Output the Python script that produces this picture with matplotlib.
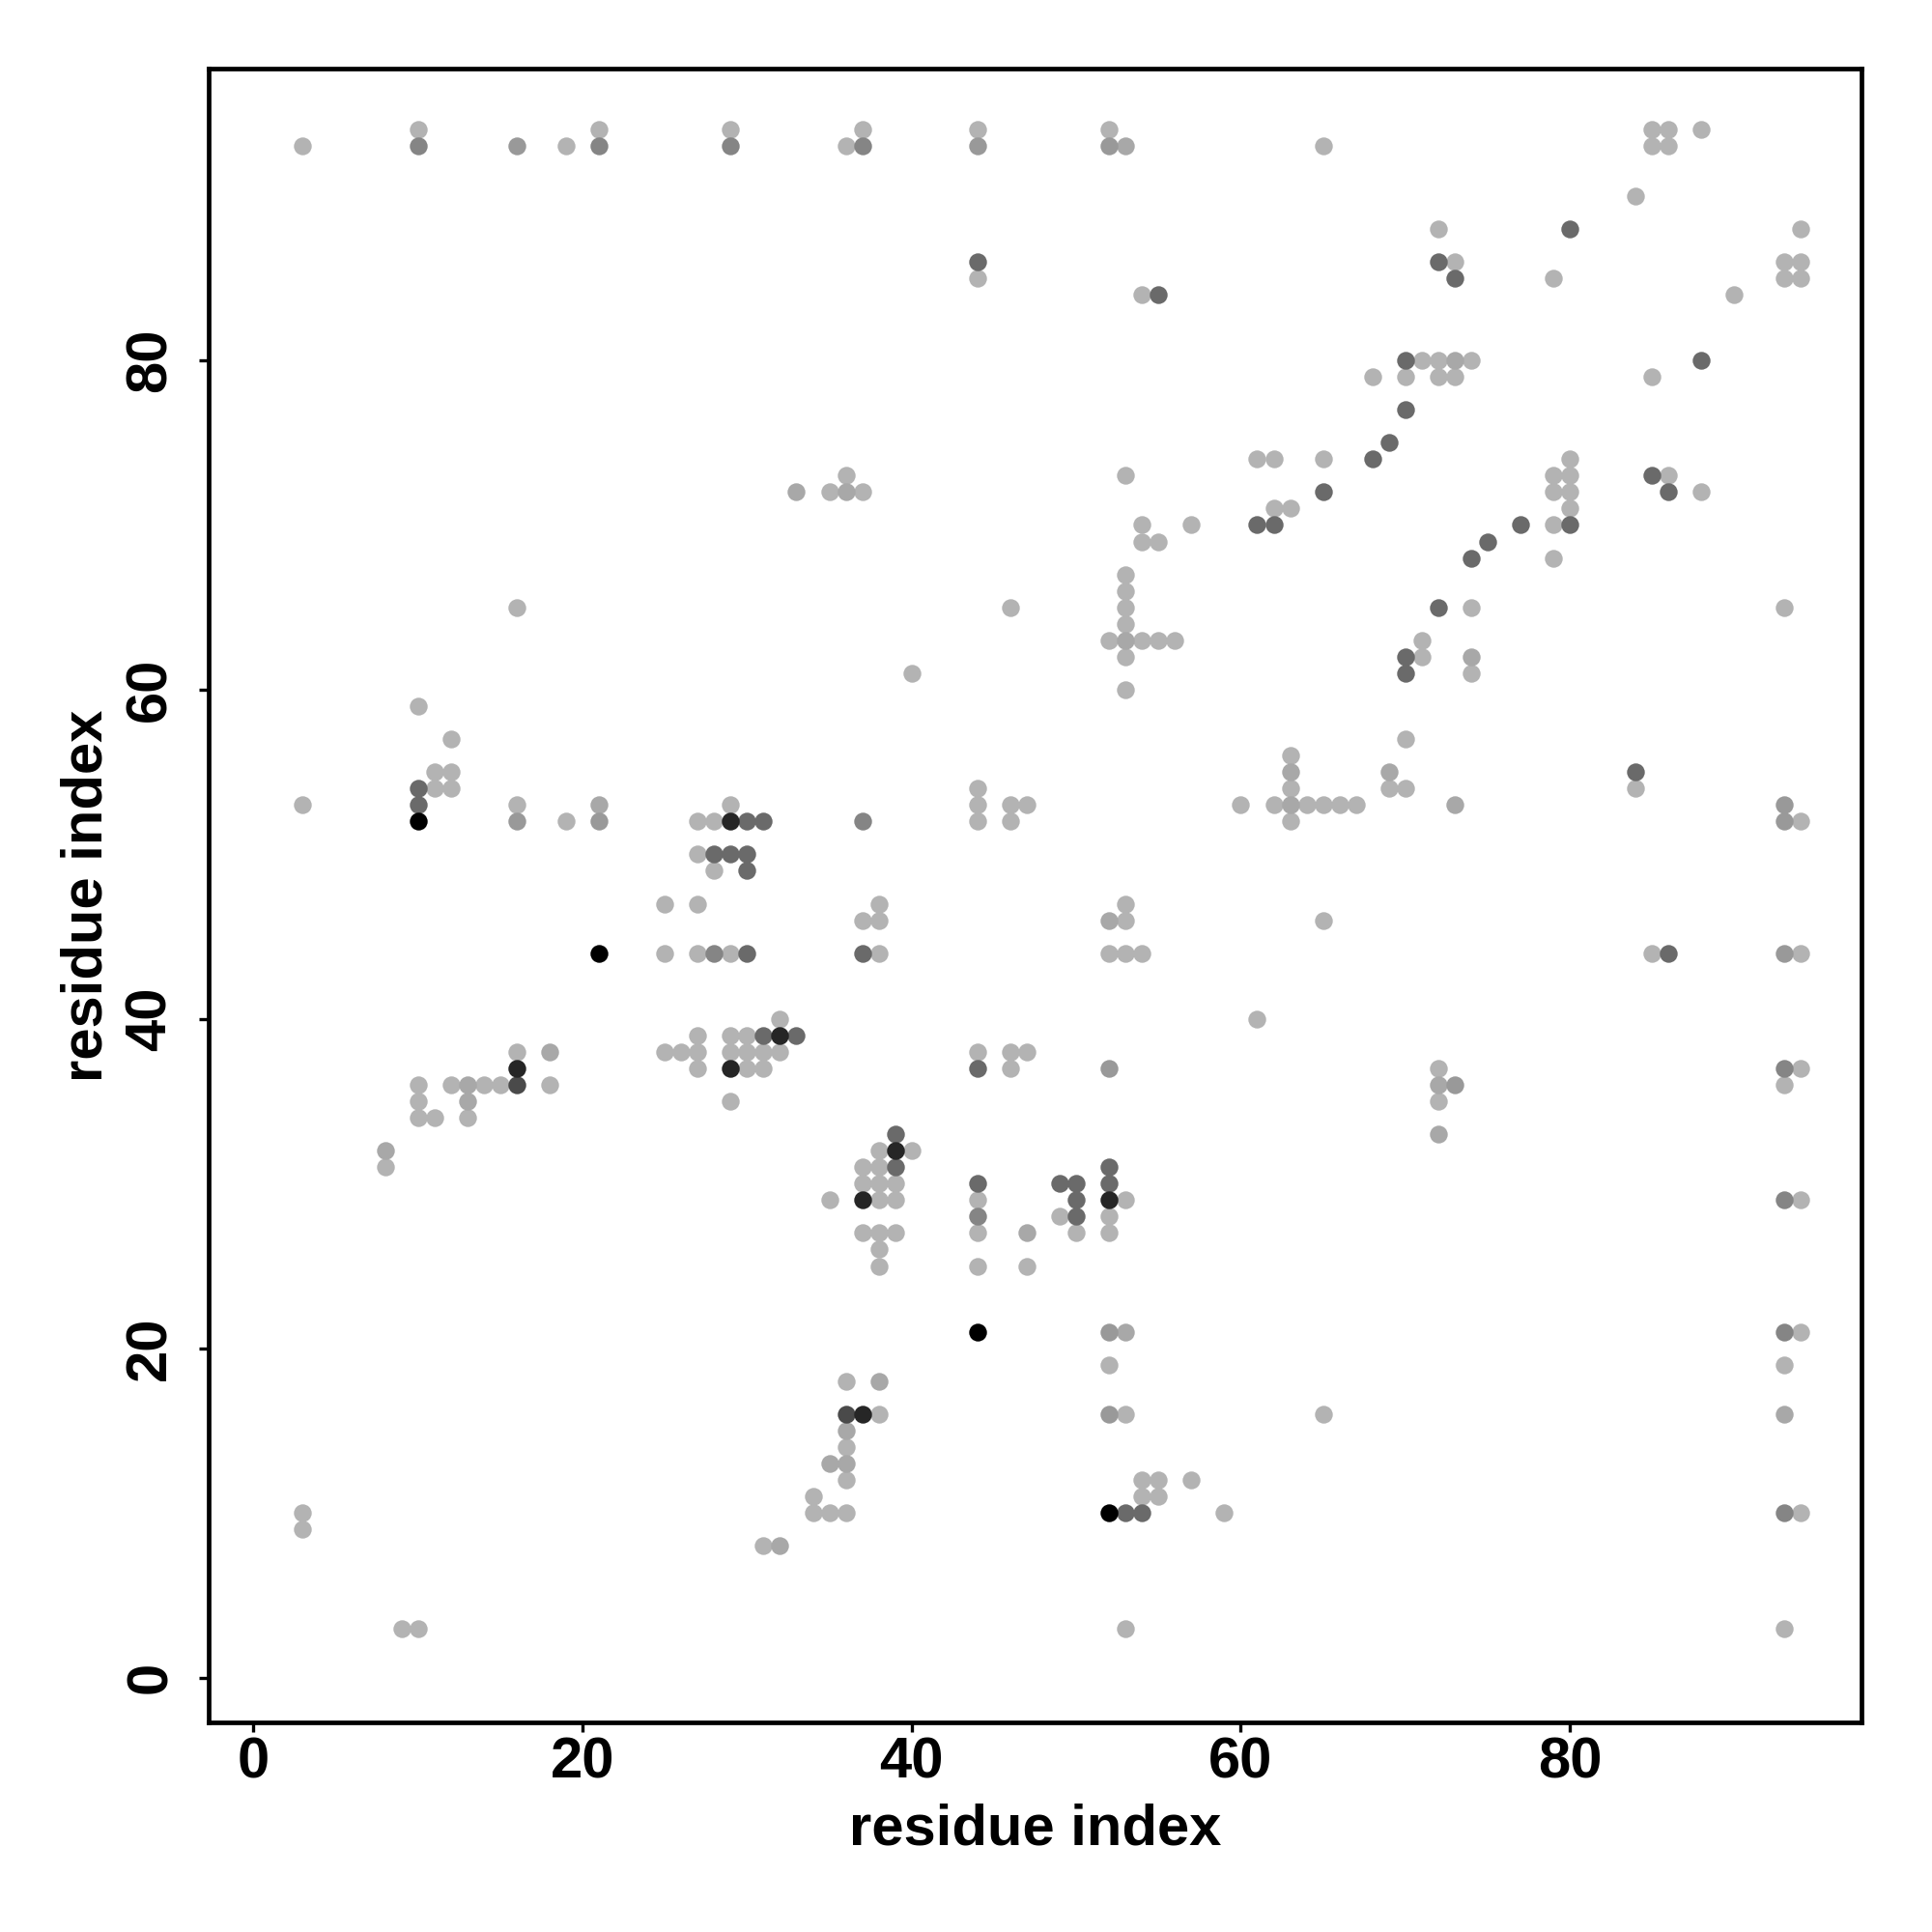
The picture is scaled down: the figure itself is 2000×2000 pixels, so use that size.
import numpy as np
import matplotlib
matplotlib.use("Agg")
import matplotlib.pyplot as plt

plt.rcParams['font.family'] = ['Liberation Sans', 'DejaVu Sans']
plt.rcParams['font.weight'] = 'bold'

# contacts (residue i, residue j), grouped by shade of grey
light = [(10, 94), (21, 94), (29, 94), (37, 94), (44, 94), (52, 94), (85, 94), (86, 94), (88, 94),
         (3, 93), (19, 93), (36, 93), (65, 93), (85, 93), (86, 93),
         (84, 90), (72, 88), (94, 88), (73, 86), (93, 86), (94, 86),
         (44, 85), (79, 85), (93, 85), (94, 85), (54, 84), (90, 84),
         (71, 80), (72, 80), (74, 80), (68, 79), (70, 79), (72, 79), (73, 79), (85, 79),
         (61, 74), (62, 74), (65, 74), (80, 74),
         (36, 73), (53, 73), (79, 73), (80, 73), (86, 73),
         (35, 72), (37, 72), (79, 72), (80, 72), (88, 72),
         (62, 71), (63, 71), (80, 71), (54, 70), (57, 70), (79, 70),
         (54, 69), (55, 69), (79, 68), (53, 67), (53, 66),
         (16, 65), (46, 65), (53, 65), (74, 65), (93, 65), (53, 64),
         (52, 63), (54, 63), (55, 63), (56, 63), (71, 63),
         (53, 62), (71, 62), (40, 61), (74, 61), (53, 60), (10, 59),
         (12, 57), (70, 57), (63, 56), (11, 55), (12, 55),
         (11, 54), (12, 54), (44, 54), (63, 54), (69, 54), (70, 54), (84, 54),
         (3, 53), (16, 53), (29, 53), (44, 53), (46, 53), (47, 53), (60, 53), (62, 53),
         (64, 53), (65, 53), (66, 53), (67, 53),
         (19, 52), (27, 52), (28, 52), (44, 52), (46, 52), (63, 52), (94, 52),
         (27, 50), (28, 49), (25, 47), (27, 47), (38, 47), (53, 47),
         (37, 46), (38, 46), (53, 46), (65, 46),
         (25, 44), (27, 44), (29, 44), (38, 44), (52, 44), (53, 44), (54, 44), (85, 44), (94, 44),
         (32, 40), (61, 40), (27, 39), (29, 39), (30, 39),
         (16, 38), (25, 38), (26, 38), (27, 38), (29, 38), (30, 38), (31, 38), (32, 38),
         (44, 38), (46, 38), (47, 38),
         (27, 37), (30, 37), (31, 37), (46, 37), (72, 37), (94, 37),
         (10, 36), (12, 36), (14, 36), (15, 36), (18, 36), (93, 36),
         (10, 35), (29, 35), (72, 35), (10, 34), (11, 34), (13, 34),
         (38, 32), (40, 32), (8, 31), (37, 31), (38, 31), (37, 30), (38, 30), (39, 30),
         (35, 29), (38, 29), (39, 29), (44, 29), (53, 29), (94, 29), (49, 28), (52, 28),
         (37, 27), (38, 27), (39, 27), (44, 27), (50, 27), (52, 27),
         (38, 26), (38, 25), (44, 25), (47, 25), (94, 21), (52, 19), (93, 19), (36, 18),
         (38, 16), (53, 16), (65, 16), (36, 14), (36, 12), (54, 12), (55, 12), (57, 12),
         (34, 11), (54, 11), (55, 11),
         (3, 10), (34, 10), (35, 10), (36, 10), (59, 10), (94, 10), (3, 9), (31, 8),
         (9, 3), (10, 3), (53, 3), (93, 3)]

mid_light = [(53, 93), (73, 80), (33, 72), (36, 72), (74, 62), (53, 63), (63, 55), (69, 55),
             (21, 53), (63, 53), (73, 53), (52, 46), (18, 38), (13, 36), (72, 36), (13, 35),
             (72, 33), (8, 32), (47, 27), (53, 21), (38, 18), (93, 16), (36, 15), (35, 13),
             (36, 13), (32, 8)]

mid = [(16, 93), (44, 93), (52, 93), (16, 52), (21, 52), (93, 53), (93, 52), (93, 44),
       (52, 37), (73, 36), (52, 21), (52, 16)]

mid_dark = [(10, 93), (21, 93), (29, 93), (37, 93), (37, 52), (28, 44), (93, 37), (93, 29),
            (44, 28), (93, 21), (93, 10)]

dark = [(44, 86), (72, 86), (80, 88), (73, 85), (55, 84), (70, 80), (88, 80), (70, 77),
        (69, 75), (68, 74), (85, 73), (65, 72), (86, 72), (61, 70), (62, 70), (77, 70),
        (80, 70), (75, 69), (74, 68), (72, 65), (70, 62), (70, 61), (84, 55), (10, 54),
        (10, 53), (30, 52), (31, 52), (28, 50), (29, 50), (30, 50), (30, 49), (30, 44),
        (37, 44), (86, 44), (31, 39), (33, 39), (44, 37), (39, 33), (39, 31), (52, 31),
        (44, 30), (49, 30), (50, 30), (52, 30), (50, 29), (50, 28), (53, 10), (54, 10)]

darker = [(16, 36), (36, 16)]

very_dark = [(29, 52), (32, 39), (16, 37), (29, 37), (39, 32), (37, 29), (52, 29), (37, 16)]

black = [(10, 52), (21, 44), (44, 21), (52, 10)]

groups = [(light, '#b3b3b3'), (mid_light, '#a8a8a8'), (mid, '#999999'),
          (mid_dark, '#858585'), (dark, '#6a6a6a'), (darker, '#4a4a4a'),
          (very_dark, '#262626'), (black, '#000000')]

fig = plt.figure(figsize=(10, 10), dpi=200)
ax = fig.add_axes([0.108, 0.1085, 0.8555, 0.856])

for pts, col in groups:
    xs, ys = zip(*pts)
    ax.scatter(xs, ys, s=44, c=col, linewidths=0, zorder=3)

ax.set_xlim(-2.72, 97.72)
ax.set_ylim(-2.72, 97.72)

ticks = [0, 20, 40, 60, 80]
ax.set_xticks(ticks)
ax.set_yticks(ticks)
ax.tick_params(axis='both', direction='out', length=3.6, width=1.2, labelsize=21.5)
ax.tick_params(axis='x', pad=1.5)
ax.tick_params(axis='y', pad=8, labelrotation=90)
for lab in ax.get_yticklabels():
    lab.set_verticalalignment('center')
    lab.set_fontweight('bold')
for lab in ax.get_xticklabels():
    lab.set_fontweight('bold')

for sp in ax.spines.values():
    sp.set_linewidth(1.7)

ax.set_xlabel('residue index', fontsize=21.5, fontweight='bold', labelpad=5)
ax.set_ylabel('residue index', fontsize=21.5, fontweight='bold', labelpad=4)

fig.savefig('out.png', dpi=200, facecolor='white')
